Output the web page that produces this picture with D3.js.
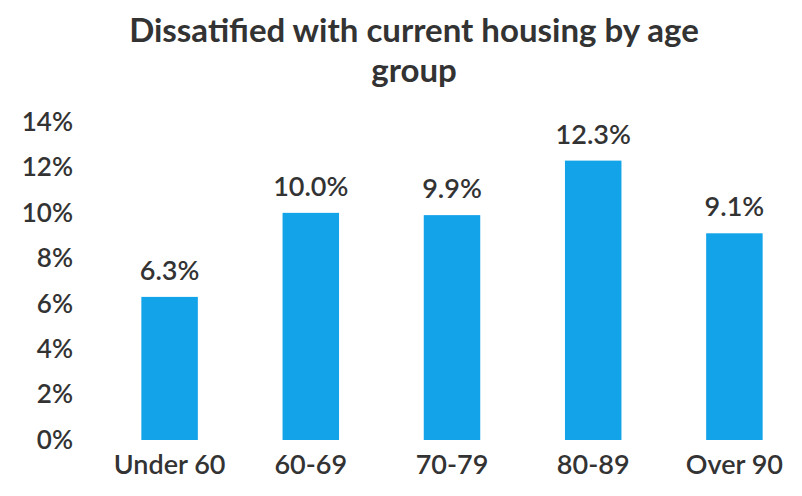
<!DOCTYPE html>
<html><head><meta charset="utf-8">
<script src="https://cdn.jsdelivr.net/npm/d3@7"></script>
<style>body{margin:0;background:#fff}svg{display:block}</style>
</head><body>
<svg id="c" width="802" height="496"></svg>
<script>
const categories = ["Under 60", "60-69", "70-79", "80-89", "Over 90"];
const values = [6.3, 10.0, 9.9, 12.3, 9.1];
const yTicks = [0, 2, 4, 6, 8, 10, 12, 14];
const titleLines = ["Dissatified with current housing by age", "group"];

const svg = d3.select("#c");
const font = "Lato, 'Open Sans', sans-serif";
const x = d3.scaleBand().domain(categories).range([99, 805]).paddingInner(0.6).paddingOuter(0.3);
const y = d3.scaleLinear().domain([0, 14]).range([440, 122]);

svg.append("g").selectAll("text").data(titleLines).join("text")
  .attr("x", 414).attr("y", (d, i) => 42 + i * 40)
  .attr("text-anchor", "middle").attr("font-family", font).attr("font-weight", 700)
  .attr("font-size", 33).attr("fill", "#333").text(d => d);

const ya = svg.append("g").attr("transform", "translate(73,0)")
  .call(d3.axisLeft(y).tickValues(yTicks).tickFormat(d => d + "%").tickSize(0).tickPadding(0));
ya.select(".domain").remove();
ya.selectAll("text").attr("font-family", font).attr("font-size", 26).attr("font-weight", 600).attr("fill", "#333");

const xa = svg.append("g").attr("transform", "translate(0,440)")
  .call(d3.axisBottom(x).tickSize(0).tickPadding(15));
xa.select(".domain").remove();
xa.selectAll("text").attr("font-family", font).attr("font-size", 27).attr("font-weight", 600).attr("fill", "#333");

svg.append("g").selectAll("rect").data(values).join("rect")
  .attr("x", (d, i) => x(categories[i])).attr("width", x.bandwidth())
  .attr("y", d => y(d)).attr("height", d => y(0) - y(d))
  .attr("fill", "#12a3e9");

svg.append("g").selectAll("text").data(values).join("text")
  .attr("x", (d, i) => x(categories[i]) + x.bandwidth() / 2)
  .attr("y", d => y(d) - 17)
  .attr("text-anchor", "middle").attr("font-family", font).attr("font-size", 27).attr("font-weight", 600)
  .attr("fill", "#333").text(d => d.toFixed(1) + "%");
</script>
</body></html>
